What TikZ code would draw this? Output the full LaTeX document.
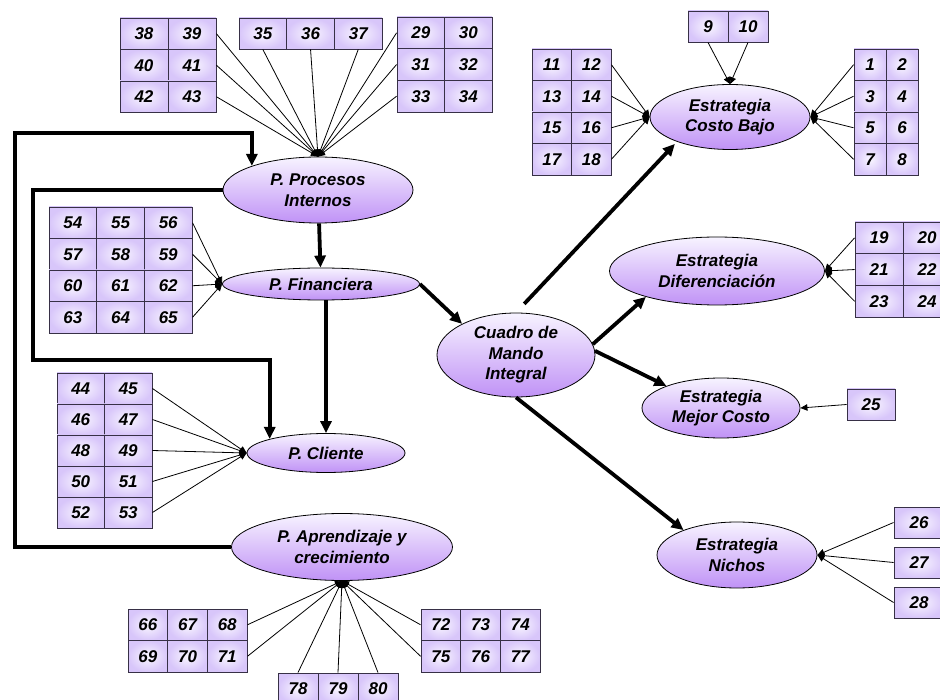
\documentclass[tikz,border=0pt]{standalone}
\usepackage{fontspec}
\setmainfont{Liberation Sans}
\usetikzlibrary{shapes.geometric,arrows.meta}

\definecolor{ellTop}{RGB}{247,243,255}
\definecolor{ellMid}{RGB}{226,208,252}
\definecolor{ellBot}{RGB}{192,146,246}
\definecolor{cellIn}{RGB}{249,246,255}
\definecolor{cellOut}{RGB}{216,198,250}
\definecolor{cellEdge}{RGB}{55,48,70}

% grid of numbered cells: x0, y0 (top-left), cell width, cell height, columns, numbers
\newcommand\cellgrid[6]{%
  \foreach \n [count=\i from 0] in {#6} {%
    \pgfmathtruncatemacro\gcol{mod(\i,#5)}%
    \pgfmathtruncatemacro\grow{div(\i,#5)}%
    \node[cell, minimum width=#3pt, minimum height=#4pt] (c\n)
      at ({#1+(\gcol+0.5)*#3},{#2+(\grow+0.5)*#4}) {\n};
  }%
}

\begin{document}
\begin{tikzpicture}[x=1pt,y=-1pt,
  lbl/.style={font=\fontsize{17}{20.5}\selectfont\bfseries\itshape},
  persp/.style={ellipse, draw, line width=0.8pt, top color=ellTop,
    middle color=ellMid, bottom color=ellBot, inner sep=0pt, align=center, lbl},
  cell/.style={rectangle, draw=cellEdge, line width=0.9pt, inner color=cellIn,
    outer color=cellOut, inner sep=0pt, lbl},
  feed/.style={line width=0.8pt, -{Triangle[length=7pt,width=6.5pt]}},
  flow/.style={line width=3.8pt, -{Triangle[length=12pt,width=11pt]}},
]
\useasboundingbox (0,0) rectangle (940,700);

% perspectives and strategies
\node[persp, minimum width=190pt, minimum height=66pt] (pi)  at (318,190) {P. Procesos\\Internos};
\node[persp, minimum width=197pt, minimum height=32pt] (fin) at (321,284) {P. Financiera};
\node[persp, minimum width=158pt, minimum height=39pt] (cli) at (326,453) {P. Cliente};
\node[persp, minimum width=221pt, minimum height=67pt] (apr) at (342,547) {P. Aprendizaje y\\crecimiento};
\node[persp, minimum width=158pt, minimum height=84pt] (cmi) at (516,355) {Cuadro de\\Mando\\Integral};
\node[persp, minimum width=160pt, minimum height=65pt] (cb)  at (730,117) {Estrategia\\Costo Bajo};
\node[persp, minimum width=215pt, minimum height=68pt] (dif) at (717,271) {Estrategia\\Diferenciación};
\node[persp, minimum width=158pt, minimum height=60pt] (mc)  at (721,408) {Estrategia\\Mejor Costo};
\node[persp, minimum width=160pt, minimum height=66pt] (nic) at (737,555) {Estrategia\\Nichos};

% indicator cells
\cellgrid{120}{18}{48}{31.5}{2}{38,...,43}
\cellgrid{239}{18}{47.7}{31}{3}{35,36,37}
\cellgrid{397}{17}{47.5}{31.7}{2}{29,...,34}
\cellgrid{49}{207}{47.7}{31.5}{3}{54,...,65}
\cellgrid{57}{373}{47.5}{31}{2}{44,...,53}
\cellgrid{128}{609}{39.7}{31.5}{3}{66,...,71}
\cellgrid{421}{609}{39.7}{31.5}{3}{72,...,77}
\cellgrid{278}{673}{40}{31}{3}{78,79,80}
\cellgrid{532}{49}{39.5}{31.5}{2}{11,...,18}
\cellgrid{688}{11}{40}{31}{2}{9,10}
\cellgrid{854}{49}{32}{31.5}{2}{1,...,8}
\cellgrid{855}{222}{48}{31.7}{2}{19,...,24}
\cellgrid{847}{389}{48}{31}{1}{25}
\cellgrid{894}{507}{50}{31}{1}{26}
\cellgrid{894}{547}{50}{31}{1}{27}
\cellgrid{894}{587}{50}{31}{1}{28}

% indicator links
\foreach \n in {39,41,43} \draw[feed] (c\n.east) -- (pi.north);
\foreach \n in {35,36,37} \draw[feed] (c\n.south) -- (pi.north);
\foreach \n in {29,31,33} \draw[feed] (c\n.west) -- (pi.north);
\foreach \n in {56,59,62,65} \draw[feed] (c\n.east) -- (fin.west);
\foreach \n in {45,47,49,51,53} \draw[feed] (c\n.east) -- (cli.west);
\foreach \n in {68,71} \draw[feed] (c\n.east) -- (apr.south);
\foreach \n in {72,75} \draw[feed] (c\n.west) -- (apr.south);
\foreach \n in {78,79,80} \draw[feed] (c\n.north) -- (apr.south);
\foreach \n in {12,14,16,18} \draw[feed] (c\n.east) -- (cb.west);
\foreach \n in {9,10} \draw[feed] (c\n.south) -- (cb.north);
\foreach \n in {1,3,5,7} \draw[feed] (c\n.west) -- (cb.east);
\foreach \n in {19,21,23} \draw[feed] (c\n.west) -- (dif.east);
\draw[feed] (c25.west) -- (mc.east);
\foreach \n in {26,27,28} \draw[feed] (c\n.west) -- (nic.east);

% main flow
\draw[flow] (pi) -- (fin);
\draw[flow] (fin.south -| cli.north) -- (cli.north);
\draw[flow] (fin.east) -- (cmi.150);
\draw[flow, shorten <=12pt, shorten >=3pt] (cmi.north) -- (cb.205);
\draw[flow] (cmi.8) -- (dif.200);
\draw[flow] (cmi.3) -- (mc.158);
\draw[flow] (cmi.south) -- (nic.155);

% feedback loops
\coordinate (ring1) at (15,133);
\coordinate (ring2) at (33,360);
\draw[flow] (apr.west) -| (ring1) -| (pi.160);
\draw[flow] (pi.west) -| (ring2) -| (cli.166);
\end{tikzpicture}
\end{document}
